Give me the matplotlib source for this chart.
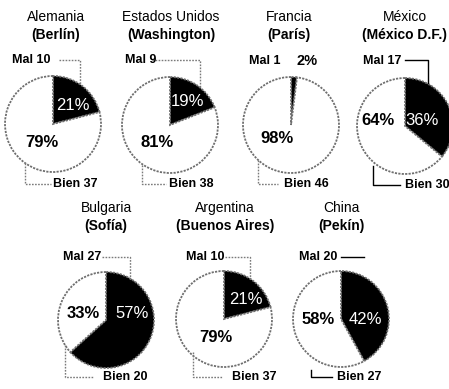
import matplotlib
matplotlib.use("Agg")
import matplotlib.pyplot as plt

# ---- data -------------------------------------------------------------
countries = ["Alemania", "Estados Unidos", "Francia", "México",
             "Bulgaria", "Argentina", "China"]
cities = ["Berlín", "Washington", "París", "México D.F.",
          "Sofía", "Buenos Aires", "Pekín"]
mal = [10, 9, 1, 17, 27, 10, 20]
bien = [37, 38, 46, 30, 20, 37, 27]
pct_mal = [21, 19, 2, 36, 57, 21, 42]
pct_bien = [79, 81, 98, 64, 33, 79, 58]

# ---- layout (pixel coordinates, y measured from the top) --------------
W, H = 449, 389
R = 48
layout = [
    dict(c=(53, 124), title_x=56, title_y=(17, 35),
         mal=(31, 60), mal_lead=[(59, 60), (80, 60), (80, 84)],
         bien=(75, 184), bien_lead=[(25, 163), (25, 184), (51, 184)],
         dark=(73, 105), light=(42, 142)),
    dict(c=(170, 125), title_x=171, title_y=(17, 35),
         mal=(141, 60), mal_lead=[(152, 60), (200, 60), (200, 88)],
         bien=(191, 184), bien_lead=[(142, 165), (142, 184), (166, 184)],
         dark=(188, 101), light=(157, 142)),
    dict(c=(291, 125), title_x=289, title_y=(17, 35),
         mal=(265, 61), mal_lead=None, extra=(307, 61),
         bien=(306, 184), bien_lead=[(258, 160), (258, 184), (278, 184)],
         dark=None, light=(277, 138)),
    dict(c=(405, 126), title_x=405, title_y=(17, 35),
         mal=(382, 61), mal_lead=[(405, 60), (428, 60), (428, 83)], solid=True,
         bien=(427, 185), bien_lead=[(373, 166), (373, 185), (400, 185)],
         dark=(422, 120), light=(378, 120)),
    dict(c=(106, 320), title_x=106, title_y=(208, 226),
         mal=(82, 257), mal_lead=[(102, 257), (130, 257), (130, 281)],
         bien=(125, 377), bien_lead=[(65, 345), (65, 377), (93, 377)],
         dark=(132, 314), light=(83, 314)),
    dict(c=(224, 319), title_x=225, title_y=(208, 226),
         mal=(205, 257), mal_lead=[(225, 257), (250, 257), (250, 280)],
         bien=(254, 377), bien_lead=[(193, 352), (193, 377), (223, 377)],
         dark=(246, 300), light=(216, 337)),
    dict(c=(341, 319), title_x=341, title_y=(208, 226),
         mal=(318, 257), mal_lead=[(341, 257), (364, 257)], solid=True,
         bien=(359, 377), bien_lead=[(311, 370), (311, 377), (332, 377)],
         dark=(365, 320), light=(318, 320)),
]

FONT = ["Liberation Sans", "DejaVu Sans"]


def Y(y):
    return H - y


fig = plt.figure(figsize=(W / 100, H / 100), dpi=100)
fig.patch.set_facecolor("white")
ax = fig.add_axes([0, 0, 1, 1])

for i, lay in enumerate(layout):
    cx, cy = lay["c"]
    ax.pie([pct_mal[i], pct_bien[i]], colors=["black", "white"],
           startangle=90, counterclock=False,
           center=(cx, Y(cy)), radius=R,
           wedgeprops=dict(edgecolor="#6f6f6f", linewidth=1.3,
                           linestyle=(0, (1.2, 0.7))))

    # country and city
    tx = lay["title_x"]
    ty1, ty2 = lay["title_y"]
    ax.text(tx, Y(ty1), countries[i], ha="center", va="center",
            fontsize=10, family=FONT, color="black")
    ax.text(tx, Y(ty2), f"({cities[i]})", ha="center", va="center",
            fontsize=10, family=FONT, fontweight="bold", color="black")

    # counts
    ax.text(lay["mal"][0], Y(lay["mal"][1]), f"Mal {mal[i]}",
            ha="center", va="center", fontsize=9, family=FONT,
            fontweight="bold", color="black")
    ax.text(lay["bien"][0], Y(lay["bien"][1]), f"Bien {bien[i]}",
            ha="center", va="center", fontsize=9, family=FONT,
            fontweight="bold", color="black")

    solid = lay.get("solid", False)
    lstyle = dict(color="black", lw=1.0) if solid else \
        dict(color="#7a7a7a", lw=1.0, ls=(0, (1.2, 1.0)))
    if lay["mal_lead"]:
        xs, ys = zip(*lay["mal_lead"])
        ax.plot(xs, [Y(v) for v in ys], **lstyle)
    xs, ys = zip(*lay["bien_lead"])
    ax.plot(xs, [Y(v) for v in ys], **lstyle)

    # percentages
    if lay["dark"] is not None:
        ax.text(lay["dark"][0], Y(lay["dark"][1]), f"{pct_mal[i]}%",
                ha="center", va="center", fontsize=12, family=FONT,
                color="white")
    else:
        ax.text(lay["extra"][0], Y(lay["extra"][1]), f"{pct_mal[i]}%",
                ha="center", va="center", fontsize=10.5, family=FONT,
                fontweight="bold", color="black")
    ax.text(lay["light"][0], Y(lay["light"][1]), f"{pct_bien[i]}%",
            ha="center", va="center", fontsize=12, family=FONT,
            fontweight="bold", color="black")

ax.set_xlim(0, W)
ax.set_ylim(0, H)
ax.set_aspect("equal")
ax.axis("off")

fig.savefig("out.png", dpi=100, facecolor="white")
